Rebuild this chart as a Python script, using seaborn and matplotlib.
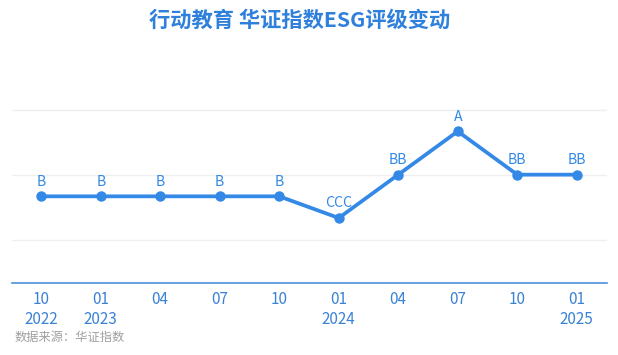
import matplotlib
matplotlib.use("Agg")
import matplotlib.pyplot as plt
import seaborn as sns
import pandas as pd

# data
periods = ["2022-10", "2023-01", "2023-04", "2023-07", "2023-10",
           "2024-01", "2024-04", "2024-07", "2024-10", "2025-01"]
tick_labels = ["10\n2022", "01\n2023", "04", "07", "10",
               "01\n2024", "04", "07", "10", "01\n2025"]
ratings = ["B", "B", "B", "B", "B", "CCC", "BB", "A", "BB", "BB"]
rating_scale = ["C", "CC", "CCC", "B", "BB", "BBB", "A", "AA", "AAA"]
score = [rating_scale.index(r) + 1 for r in ratings]

df = pd.DataFrame({"idx": range(len(periods)), "score": score, "rating": ratings})

sns.set_theme(style="white")
plt.rcParams["font.family"] = ["Noto Sans CJK SC", "DejaVu Sans"]

W, H = 618, 355
fig = plt.figure(figsize=(W / 100, H / 100), dpi=100)
ax = fig.add_axes([11.5 / W, 72 / H, 595 / W, (283 - 88) / H])

blue = "#3489e6"
sns.lineplot(data=df, x="idx", y="score", ax=ax, color=blue, linewidth=2.7,
             marker="o", markersize=7.5, markeredgewidth=0, zorder=3)

for i, (s, r) in enumerate(zip(score, ratings)):
    ax.annotate(r, (i, s), xytext=(0, 10.5), textcoords="offset points",
                ha="center", va="center", fontsize=10.2, color=blue)

ax.set_xlim(-0.5, len(periods) - 0.5)
ax.set_ylim(0, 9)
ax.set_yticks([2, 5, 8])
ax.yaxis.grid(True, color="#efefef", linewidth=1)
ax.set_yticklabels([])
ax.tick_params(axis="y", length=0)
ax.set_xticks(range(len(periods)))
ax.set_xticklabels(tick_labels, fontsize=11, color="#3a82d6", linespacing=1.2)
ax.tick_params(axis="x", direction="out", length=4, width=1, color="#4a90d9", pad=2)
ax.set_xlabel("")
ax.set_ylabel("")
for sp in ["top", "left", "right"]:
    ax.spines[sp].set_visible(False)
ax.spines["bottom"].set_color("#4a90d9")
ax.spines["bottom"].set_linewidth(1.2)

fig.text(300 / W, 1 - 20 / H, "行动教育 华证指数ESG评级变动", ha="center", va="center",
         fontsize=15.3, fontweight="bold", color="#2f80dc")
fig.text(15 / W, 1 - 337 / H, "数据来源：华证指数", ha="left", va="center",
         fontsize=8.8, color="#a0a0a0")

fig.savefig("out.png", dpi=100)
